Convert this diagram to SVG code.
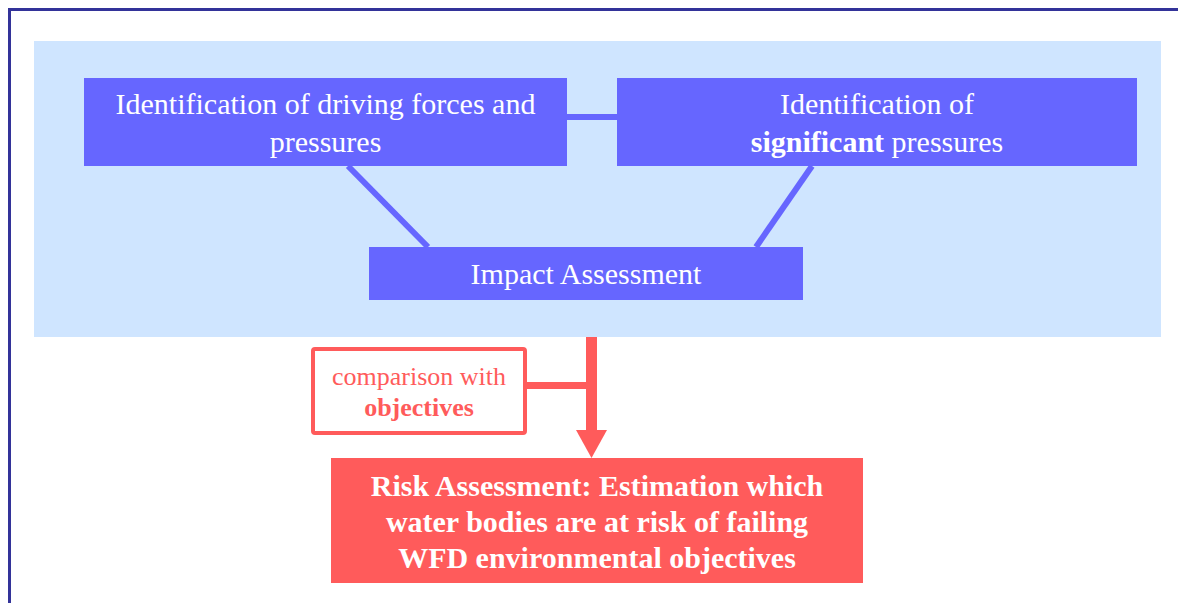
<svg xmlns="http://www.w3.org/2000/svg" width="1178" height="603" viewBox="0 0 1178 603">
<defs>
<style>
.box{fill:#6666FF}
.wt{fill:#FFFFFF;font-family:"Liberation Serif","Times New Roman",serif;font-size:30px;text-anchor:middle}
.rt{fill:#FF5B5B;font-family:"Liberation Serif","Times New Roman",serif;font-size:26px;text-anchor:middle}
.bl{stroke:#6666FF;stroke-width:6;fill:none}
.rl{stroke:#FF5B5B;fill:none}
</style>
</defs>
<rect width="1178" height="603" fill="#FFFFFF"/>
<path d="M9.5,603 V9.5 H1178" fill="none" stroke="#333399" stroke-width="3"/>
<rect x="34" y="41" width="1127" height="296" fill="#CFE5FF"/>
<g id="connectors">
<line class="bl" x1="567" y1="117" x2="617" y2="117"/>
<line class="bl" x1="348" y1="166" x2="428" y2="247"/>
<line class="bl" x1="812" y1="166" x2="756" y2="247"/>
<line class="rl" x1="591.5" y1="337" x2="591.5" y2="432" stroke-width="11"/>
<line class="rl" x1="527" y1="385.5" x2="591" y2="385.5" stroke-width="7"/>
<polygon points="576,430 607,430 591.5,458" fill="#FF5B5B"/>
</g>
<g id="n1">
<rect class="box" x="84" y="78" width="483" height="88"/>
<text class="wt" x="325.5" y="114">Identification of driving forces and</text>
<text class="wt" x="325.5" y="152">pressures</text>
</g>
<g id="n2">
<rect class="box" x="617" y="78" width="520" height="88"/>
<text class="wt" x="877" y="114">Identification of</text>
<text class="wt" x="877" y="152"><tspan font-weight="bold">significant</tspan> pressures</text>
</g>
<g id="n3">
<rect class="box" x="369" y="247" width="434" height="53"/>
<text class="wt" x="586" y="284">Impact Assessment</text>
</g>
<g id="n4">
<rect x="313" y="349" width="212" height="84" rx="2" fill="#FFFFFF" stroke="#FF5B5B" stroke-width="4"/>
<text class="rt" x="419" y="385">comparison with</text>
<text class="rt" x="419" y="416" font-weight="bold">objectives</text>
</g>
<g id="n5">
<rect x="331" y="458" width="532" height="125" fill="#FF5B5B"/>
<text class="wt" x="597" y="496" font-weight="bold">Risk Assessment: Estimation which</text>
<text class="wt" x="597" y="532" font-weight="bold">water bodies are at risk of failing</text>
<text class="wt" x="597" y="568" font-weight="bold">WFD environmental objectives</text>
</g>
</svg>
